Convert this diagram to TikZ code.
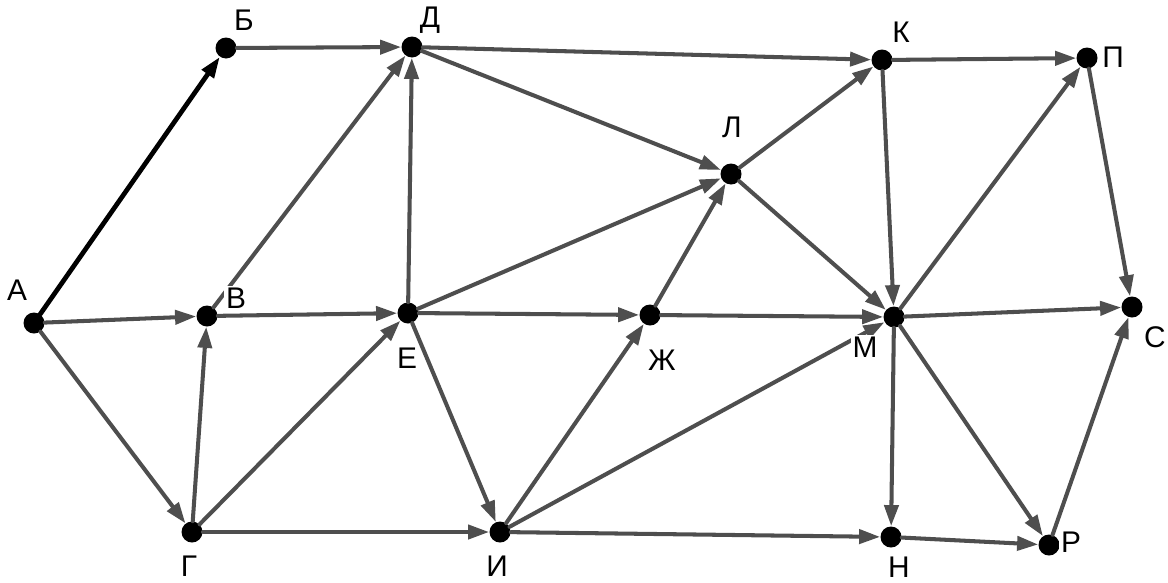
\documentclass[tikz,border=0pt]{standalone}
\usepackage{fontspec}
\setmainfont{Liberation Sans}
\usetikzlibrary{arrows.meta}
\definecolor{edgegray}{RGB}{78,78,78}

\begin{document}
\begin{tikzpicture}[x=0.02cm,y=-0.02cm,line cap=round,line join=round,
  dot/.style={circle,fill=black,inner sep=0pt,minimum size=0.42cm},
  lbl/.style={fill=white,inner sep=1pt,font=\fontsize{17}{19}\selectfont},
  edge/.style={-{Triangle[length=12pt,width=8pt]},draw=edgegray,line width=2.3pt},
  boldedge/.style={edge,draw=black,line width=2.7pt}]
\useasboundingbox (0,0) rectangle (1168,582);
% vertices
\node[dot] (nA) at (34,323) {};
\node[dot] (nB) at (226,48) {};
\node[dot] (nD) at (412,47) {};
\node[dot] (nK) at (882,60) {};
\node[dot] (nP) at (1087,58) {};
\node[dot] (nL) at (731,174) {};
\node[dot] (nV) at (207,316) {};
\node[dot] (nE) at (408,313) {};
\node[dot] (nZh) at (650,315) {};
\node[dot] (nM) at (894,317) {};
\node[dot] (nS) at (1132,307) {};
\node[dot] (nG) at (192,532) {};
\node[dot] (nI) at (500,532) {};
\node[dot] (nN) at (891,537) {};
\node[dot] (nR) at (1049,545) {};
% arcs
\draw[boldedge] (nA) -- (nB);
\draw[edge] (nA) -- (nV);
\draw[edge] (nA) -- (nG);
\draw[edge] (nB) -- (nD);
\draw[edge] (nV) -- (nD);
\draw[edge] (nV) -- (nE);
\draw[edge] (nG) -- (nV);
\draw[edge] (nG) -- (nE);
\draw[edge] (nG) -- (nI);
\draw[edge] (nE) -- (nD);
\draw[edge] (nE) -- (nL);
\draw[edge] (nE) -- (nZh);
\draw[edge] (nE) -- (nI);
\draw[edge] (nD) -- (nK);
\draw[edge] (nD) -- (nL);
\draw[edge] (nZh) -- (nL);
\draw[edge] (nZh) -- (nM);
\draw[edge] (nI) -- (nZh);
\draw[edge] (nI) -- (nM);
\draw[edge] (nI) -- (nN);
\draw[edge] (nL) -- (nK);
\draw[edge] (nL) -- (nM);
\draw[edge] (nK) -- (nP);
\draw[edge] (nK) -- (nM);
\draw[edge] (nM) -- (nP);
\draw[edge] (nM) -- (nS);
\draw[edge] (nM) -- (nN);
\draw[edge] (nM) -- (nR);
\draw[edge] (nP) -- (nS);
\draw[edge] (nN) -- (nR);
\draw[edge] (nR) -- (nS);
% labels
\node[lbl] (tA) at (17,290) {А};
\node[lbl] (tB) at (244,20) {Б};
\node[lbl] (tD) at (430,20) {Д};
\node[lbl] (tK) at (901,32) {К};
\node[lbl] (tP) at (1113,57) {П};
\node[lbl] (tL) at (732,127) {Л};
\node[lbl] (tV) at (236,298) {В};
\node[lbl] (tE) at (407,358) {Е};
\node[lbl] (tZh) at (662,360) {Ж};
\node[lbl] (tM) at (865,347) {М};
\node[lbl] (tS) at (1155,337) {С};
\node[lbl] (tG) at (189,566) {Г};
\node[lbl] (tI) at (497,566) {И};
\node[lbl] (tN) at (899,567) {Н};
\node[lbl] (tR) at (1071,542) {Р};
\end{tikzpicture}
\end{document}
